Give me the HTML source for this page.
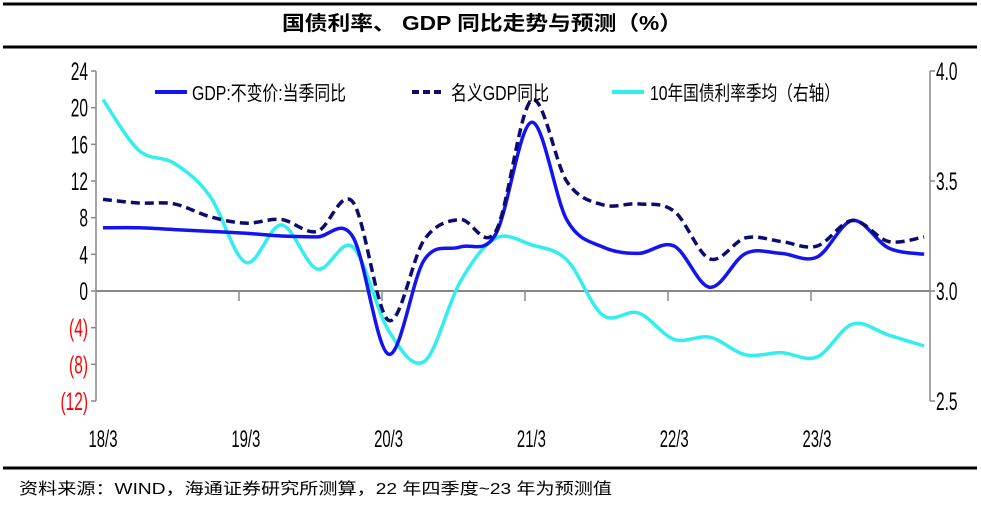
<!DOCTYPE html>
<html><head><meta charset="utf-8">
<style>
html,body{margin:0;padding:0;background:#fff;}
body{width:981px;height:505px;overflow:hidden;font-family:"Liberation Sans","Noto Sans CJK SC",sans-serif;}
svg text{font-family:"Liberation Sans","Noto Sans CJK SC",sans-serif;}
</style></head>
<body>
<svg id="chart" width="981" height="505" xmlns="http://www.w3.org/2000/svg">
  <line x1="3" y1="4" x2="977" y2="4" stroke="#000" stroke-width="3"/>
  <text x="482" y="30" text-anchor="middle" font-size="20" font-weight="bold" textLength="400" lengthAdjust="spacingAndGlyphs">国债利率、 GDP 同比走势与预测（%）</text>
  <line x1="3" y1="47" x2="977" y2="47" stroke="#000" stroke-width="3"/>
  <g id="axes"></g>
  <g id="series"></g>
  <g id="legend">
    <line x1="155" y1="92" x2="187" y2="92" stroke="#1414EE" stroke-width="4"/>
    <text x="192" y="100" font-size="20" textLength="154" lengthAdjust="spacingAndGlyphs">GDP:不变价:当季同比</text>
    <line x1="412" y1="92" x2="444" y2="92" stroke="#0C0C6E" stroke-width="4" stroke-dasharray="7,4"/>
    <text x="451" y="100" font-size="20" textLength="98" lengthAdjust="spacingAndGlyphs">名义GDP同比</text>
    <line x1="612" y1="92" x2="644" y2="92" stroke="#33EEEE" stroke-width="4"/>
    <text x="650" y="100" font-size="20" textLength="190" lengthAdjust="spacingAndGlyphs">10年国债利率季均（右轴）</text>
  </g>
  <line x1="3" y1="468" x2="977" y2="468" stroke="#000" stroke-width="3"/>
  <text x="19" y="494" font-size="16" textLength="593" lengthAdjust="spacingAndGlyphs">资料来源：WIND，海通证券研究所测算，22 年四季度~23 年为预测值</text>
</svg>
<script>
const quarters = ["18Q1","18Q2","18Q3","18Q4","19Q1","19Q2","19Q3","19Q4","20Q1","20Q2","20Q3","20Q4","21Q1","21Q2","21Q3","21Q4","22Q1","22Q2","22Q3","22Q4","23Q1","23Q2","23Q3","23Q4"];
const realGdp = [6.9,6.9,6.7,6.5,6.3,6.0,5.9,5.9,-6.9,3.4,4.8,6.2,18.4,7.7,4.8,4.1,4.9,0.4,4.1,4.1,3.7,7.7,4.7,4.0];
const nominalGdp = [10.0,9.6,9.5,8.1,7.4,7.8,6.5,9.7,-3.2,5.6,7.8,6.5,20.8,11.9,9.4,9.5,8.7,3.5,5.8,5.4,4.9,7.7,5.4,5.9];
const bondYield = [3.87,3.64,3.58,3.43,3.13,3.30,3.10,3.20,2.82,2.68,3.04,3.24,3.21,3.14,2.89,2.90,2.78,2.79,2.71,2.72,2.70,2.85,2.80,2.75];
const leftTicks = [24,20,16,12,8,4,0,-4,-8,-12];
const leftTickLabels = ["24","20","16","12","8","4","0","(4)","(8)","(12)"];
const rightTicks = [4.0,3.5,3.0,2.5];
const rightTickLabels = ["4.0","3.5","3.0","2.5"];
const xLabels = ["18/3","19/3","20/3","21/3","22/3","23/3"];

const NS = "http://www.w3.org/2000/svg";
const plotL = 96, plotR = 930, yTop = 71, yBot = 401;
const x0 = 103, dx = 35.7;
const SX = 0.62;
function xPos(i){ return x0 + dx * i; }
function yLeft(v){ return 291 - v * (220/24); }
function yRight(v){ return 291 - (v - 3.0) * 220; }
function mk(tag, attrs, parent){ const e = document.createElementNS(NS, tag); for (const k in attrs) e.setAttribute(k, attrs[k]); parent.appendChild(e); return e; }

const axes = document.getElementById('axes');
const ax = mk('line', {x1:plotL,y1:yTop,x2:plotL,y2:yBot,stroke:'#888','stroke-width':1.5}, axes);


const axr = mk('line', {x1:plotR,y1:yTop,x2:plotR,y2:yBot,stroke:'#888','stroke-width':1.5}, axes);


const zl = mk('line', {x1:plotL,y1:yLeft(0),x2:plotR,y2:yLeft(0),stroke:'#888','stroke-width':2}, axes);



leftTicks.forEach((v,i)=>{
  const y = yLeft(v);
  const t = mk('line', {x1:plotL-5,y1:y,x2:plotL,y2:y,stroke:'#888','stroke-width':1.5}, axes);
  
  
  const ax0 = plotL-8;
  const lb = mk('text', {x:ax0,y:y+9,'text-anchor':'end','font-size':25,fill:v<0?'#FF0000':'#000',transform:`translate(${ax0*(1-SX)},0) scale(${SX},1)`}, axes);
  lb.textContent = leftTickLabels[i];
  
  
});
rightTicks.forEach((v,i)=>{
  const y = yRight(v);
  const t = mk('line', {x1:plotR,y1:y,x2:plotR+5,y2:y,stroke:'#888','stroke-width':1.5}, axes);
  
  
  const lb = mk('text', {x:936,y:y+9,'font-size':25,fill:'#000',transform:`translate(${936*(1-SX)},0) scale(${SX},1)`}, axes);
  lb.textContent = rightTickLabels[i];
  
  
});
xLabels.forEach((s,k)=>{
  const tx = plotL + 143*k;
  if (k>0){
    const t = mk('line', {x1:tx,y1:yLeft(0),x2:tx,y2:yLeft(0)+10,stroke:'#888','stroke-width':1.5}, axes);
    
    
  }
  const lx = xPos(4*k);
  const lb = mk('text', {x:lx,y:447,'text-anchor':'middle','font-size':24,fill:'#000',transform:`translate(${lx*(1-SX)},0) scale(${SX},1)`}, axes);
  lb.textContent = s;
  
  
});

function smoothPath(pts){
  let d = `M${pts[0][0]},${pts[0][1]}`;
  for (let i=0;i<pts.length-1;i++){
    const p0 = pts[Math.max(i-1,0)], p1 = pts[i], p2 = pts[i+1], p3 = pts[Math.min(i+2,pts.length-1)];
    const c1x = p1[0] + (p2[0]-p0[0])/6, c1y = p1[1] + (p2[1]-p0[1])/6;
    const c2x = p2[0] - (p3[0]-p1[0])/6, c2y = p2[1] - (p3[1]-p1[1])/6;
    d += ` C${c1x},${c1y} ${c2x},${c2y} ${p2[0]},${p2[1]}`;
  }
  return d;
}
const series = document.getElementById('series');
const pY = mk('path', {d:smoothPath(bondYield.map((v,i)=>[xPos(i),yRight(v)])),fill:'none',stroke:'#33EEEE','stroke-width':3.5,'stroke-linejoin':'round'}, series);


const pR = mk('path', {d:smoothPath(realGdp.map((v,i)=>[xPos(i),yLeft(v)])),fill:'none',stroke:'#1414EE','stroke-width':3.5,'stroke-linejoin':'round'}, series);


const pN = mk('path', {d:smoothPath(nominalGdp.map((v,i)=>[xPos(i),yLeft(v)])),fill:'none',stroke:'#0C0C6E','stroke-width':3.5,'stroke-dasharray':'9,5','stroke-linejoin':'round'}, series);


</script>
</body></html>
